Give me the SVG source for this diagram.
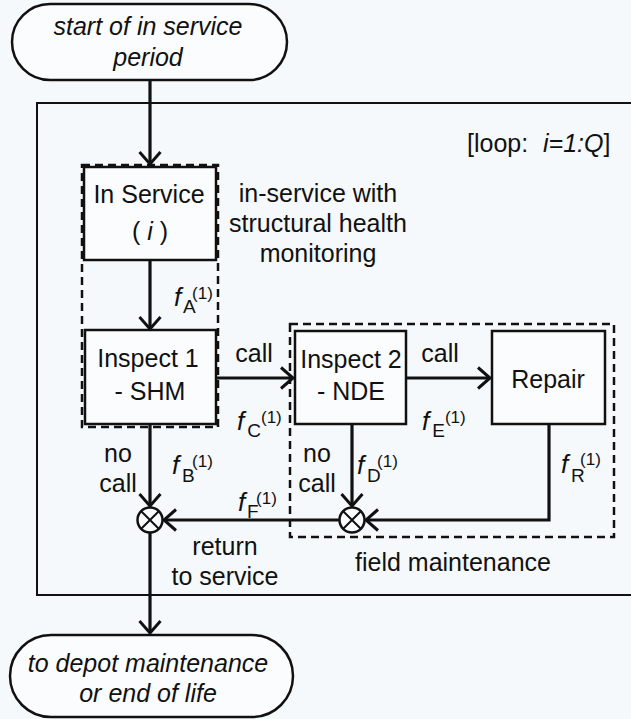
<svg xmlns="http://www.w3.org/2000/svg" width="631" height="719" viewBox="0 0 631 719">
<defs>
<marker id="arr" markerUnits="userSpaceOnUse" markerWidth="18" markerHeight="24" refX="14" refY="12" orient="auto">
<path d="M2,1.5 L14,12 L2,22.5" fill="none" stroke="#111" stroke-width="3" stroke-linejoin="miter"/>
</marker>
</defs>
<style>
text{font-family:"Liberation Sans",Arial,sans-serif;fill:#111;font-size:25px}
.c{text-anchor:middle}
.it{font-style:italic}
.f{font-style:italic;font-size:26px}
.box{fill:#fbfcfd;stroke:#111;stroke-width:2.5}
.dash{fill:none;stroke:#111;stroke-width:2.5;stroke-dasharray:8 5}
.ln{fill:none;stroke:#111;stroke-width:3.2}
.sub{font-size:19px;font-style:normal}
.sup{font-size:17px;font-style:normal}
</style>
<rect width="631" height="719" fill="#f6f9fb"/>

<rect x="37" y="103" width="610" height="492" fill="none" stroke="#111" stroke-width="2"/>
<text x="467" y="152">[loop:<tspan class="it" x="543">i=1:Q</tspan>]</text>

<g id="start">
<rect x="12" y="4" width="275" height="76" rx="38" class="box"/>
<text class="c it" x="148" y="35">start of in service</text>
<text class="c it" x="148" y="66">period</text>
</g>

<g id="shm-group">
<rect x="82" y="165" width="136" height="262" class="dash"/>
<text class="c" x="318" y="202">in-service with</text>
<text class="c" x="318" y="232">structural health</text>
<text class="c" x="318" y="262">monitoring</text>
</g>

<g id="field-group">
<rect x="290" y="324" width="324" height="213" class="dash"/>
<text x="355" y="571">field maintenance</text>
</g>

<g id="inservice">
<rect x="84" y="167" width="132" height="93" class="box"/>
<text class="c" x="149" y="203">In Service</text>
<text class="c" x="150" y="240">( <tspan class="it">i</tspan> )</text>
</g>

<g id="inspect1">
<rect x="85" y="330" width="131" height="94" class="box"/>
<text class="c" x="148" y="367">Inspect 1</text>
<text class="c" x="150" y="400">- SHM</text>
</g>

<g id="inspect2">
<rect x="295" y="331" width="111" height="93" class="box"/>
<text class="c" x="351" y="368">Inspect 2</text>
<text class="c" x="351" y="400">- NDE</text>
</g>

<g id="repair">
<rect x="492" y="331" width="113" height="93" class="box"/>
<text class="c" x="548" y="388">Repair</text>
</g>

<g id="junction-left">
<circle cx="150" cy="520" r="12.5" class="box"/>
<path d="M141.2,511.2 L158.8,528.8 M158.8,511.2 L141.2,528.8" stroke="#111" stroke-width="2"/>
</g>
<g id="junction-right">
<circle cx="352" cy="520" r="12.5" class="box"/>
<path d="M343.2,511.2 L360.8,528.8 M360.8,511.2 L343.2,528.8" stroke="#111" stroke-width="2"/>
</g>

<g id="end">
<rect x="10" y="635" width="283" height="82" rx="41" class="box"/>
<text class="c it" x="148" y="672">to depot maintenance</text>
<text class="c it" x="148" y="702">or end of life</text>
</g>

<g id="connectors">
<line x1="150" y1="80" x2="150" y2="164" class="ln" marker-end="url(#arr)"/>
<line x1="150" y1="260" x2="150" y2="329" class="ln" marker-end="url(#arr)"/>
<line x1="216" y1="378" x2="293" y2="378" class="ln" marker-end="url(#arr)"/>
<line x1="406" y1="378" x2="490" y2="378" class="ln" marker-end="url(#arr)"/>
<line x1="150" y1="424" x2="150" y2="506" class="ln" marker-end="url(#arr)"/>
<line x1="352" y1="424" x2="352" y2="506" class="ln" marker-end="url(#arr)"/>
<path d="M549,424 V520 H366" class="ln" marker-end="url(#arr)"/>
<line x1="339" y1="520" x2="164" y2="520" class="ln" marker-end="url(#arr)"/>
<line x1="150" y1="533" x2="150" y2="633" class="ln" marker-end="url(#arr)"/>

<text class="c" x="254" y="362">call</text>
<text class="c" x="440" y="362">call</text>
<text class="c" x="118" y="462">no</text>
<text class="c" x="118" y="492">call</text>
<text class="c" x="317" y="462">no</text>
<text class="c" x="317" y="492">call</text>
<text class="c" x="225" y="555">return</text>
<text class="c" x="225" y="585">to service</text>

<text class="f" x="174" y="306">f<tspan class="sub" dx="1.8" dy="7">A</tspan><tspan class="sup" dx="-3.7" dy="-14">(1)</tspan></text>
<text class="f" x="237" y="430">f<tspan class="sub" dx="3" dy="7">C</tspan><tspan class="sup" dx="0" dy="-14">(1)</tspan></text>
<text class="f" x="422" y="430">f<tspan class="sub" dx="3" dy="7">E</tspan><tspan class="sup" dx="0" dy="-14">(1)</tspan></text>
<text class="f" x="172" y="474">f<tspan class="sub" dx="2.8" dy="8">B</tspan><tspan class="sup" dx="-2.7" dy="-15">(1)</tspan></text>
<text class="f" x="357" y="474">f<tspan class="sub" dx="2.8" dy="8">D</tspan><tspan class="sup" dx="-3.7" dy="-15">(1)</tspan></text>
<text class="f" x="238" y="511">f<tspan class="sub" dx="1.8" dy="7">F</tspan><tspan class="sup" dx="-2.6" dy="-14">(1)</tspan></text>
<text class="f" x="561" y="473">f<tspan class="sub" dx="2.8" dy="9">R</tspan><tspan class="sup" dx="-4.7" dy="-17">(1)</tspan></text>
</g>
</svg>
